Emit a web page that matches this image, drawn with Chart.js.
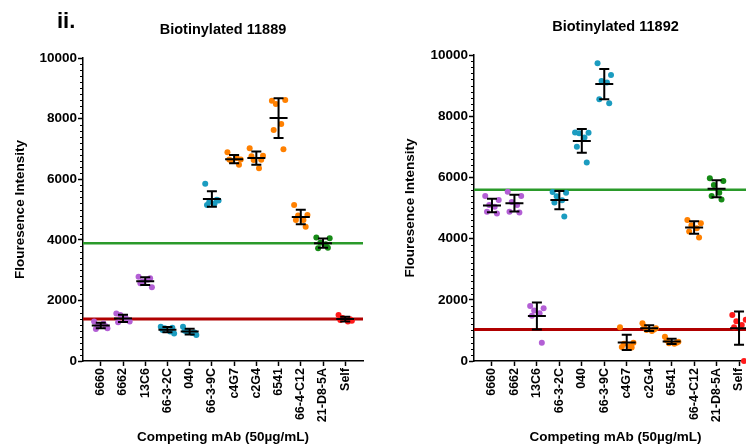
<!DOCTYPE html>
<html><head><meta charset="utf-8">
<script src="https://cdn.jsdelivr.net/npm/chart.js@4.4.1/dist/chart.umd.min.js"></script>
<style>
html,body{margin:0;padding:0;background:#fff;overflow:hidden;width:746px;height:445px;}
#c1{position:absolute;left:0;top:0;}
#c2{position:absolute;left:385px;top:0;}
</style></head><body>
<canvas id="c1" width="375" height="445"></canvas>
<canvas id="c2" width="385" height="445"></canvas>
<script>
// ---------- data ----------
const categories = ['6660','6662','13C6','66-3-2C','040','66-3-9C','c4G7','c2G4','6541','66-4-C12','21-D8-5A','Self'];
const groups = ['purple','purple','purple','teal','teal','teal','orange','orange','orange','orange','green','red'];
const yTicks = [0, 2000, 4000, 6000, 8000, 10000];

const values11889 = [
  [1300, 1080, 1190, 1240, 1060, 1150],
  [1570, 1300, 1520, 1420, 1280, 1350],
  [2780, 2430, 2620, 2680, 2570, 2730],
  [1130, 910, 1080, 970, 1020, 1100],
  [1130, 860, 970, 920, 1000, 940],
  [5850, 5300, 5250, 5200, 5150, 5320],
  [6890, 6650, 6600, 6700, 6650, 6480],
  [7020, 6770, 6630, 6360, 6760, 6640],
  [8590, 8610, 8480, 7820, 7620, 6990],
  [5150, 4820, 4800, 4650, 4650, 4430],
  [4080, 4050, 3900, 3850, 3720, 3740],
  [1520, 1330, 1420, 1300, 1350, 1380]
];
const values11892 = [
  [5390, 5260, 5100, 5040, 4880, 4820],
  [5530, 5390, 5200, 5100, 4880, 4850],
  [1800, 1720, 1650, 1560, 1480, 600],
  [5520, 5500, 5380, 5250, 5180, 4720],
  [7470, 7460, 7440, 7300, 7000, 6490],
  [9730, 9350, 9150, 9100, 8550, 8420],
  [1100, 600, 560, 480, 460, 440],
  [1230, 1070, 1010, 980, 1120, 1030],
  [790, 630, 580, 560, 680, 600],
  [4610, 4500, 4440, 4340, 4230, 4040],
  [5970, 5880, 5750, 5500, 5390, 5280],
  [1500, 1350, 1300, 1180, 1100, 0]
];
const redLine11889 = 1390, greenLine11889 = 3890;
const redLine11892 = 1030, greenLine11892 = 5600;

// ---------- style ----------
const colors = {purple:'#b35fd5', teal:'#1b9cc0', orange:'#ff8000', green:'#168a16', red:'#ff1a1a'};
const jitter = [-0.3, 0.3, -0.12, 0.12, -0.22, 0.22];
const FONT = "'Liberation Sans', Arial, Helvetica, sans-serif";
Chart.defaults.font.family = FONT;
Chart.defaults.font.weight = 'bold';
Chart.defaults.color = '#000';

const errorBars = {
  id: 'errorBars',
  afterDatasetsDraw(chart) {
    const ctx = chart.ctx, xs = chart.scales.x, ys = chart.scales.y;
    ctx.save();
    ctx.strokeStyle = '#000';
    ctx.lineWidth = 2;
    chart.data.datasets.forEach(ds => {
      if (ds.catIndex === undefined) return;
      const v = ds.raw;
      const n = v.length;
      const mean = v.reduce((a, b) => a + b, 0) / n;
      const sd = Math.sqrt(v.reduce((a, b) => a + (b - mean) * (b - mean), 0) / (n - 1));
      const px = xs.getPixelForValue(ds.catIndex);
      const pm = ys.getPixelForValue(mean);
      const pt = ys.getPixelForValue(mean + sd);
      const pb = ys.getPixelForValue(mean - sd);
      ctx.beginPath();
      ctx.moveTo(px - 9, pm); ctx.lineTo(px + 9, pm);
      ctx.moveTo(px, pt); ctx.lineTo(px, pb);
      ctx.moveTo(px - 5, pt); ctx.lineTo(px + 5, pt);
      ctx.moveTo(px - 5, pb); ctx.lineTo(px + 5, pb);
      ctx.stroke();
    });
    ctx.restore();
  }
};

const minorTicks = {
  id: 'minorTicks',
  afterDraw(chart) {
    const ctx = chart.ctx, ys = chart.scales.y;
    ctx.save();
    ctx.strokeStyle = '#000';
    ctx.lineWidth = 1;
    for (let v = 200; v < 10000; v += 200) {
      if (v % 2000 === 0) continue;
      const y = Math.round(ys.getPixelForValue(v)) + 0.5;
      ctx.beginPath();
      ctx.moveTo(ys.right - 3, y); ctx.lineTo(ys.right, y);
      ctx.stroke();
    }
    ctx.restore();
  }
};

function makeChart(id, values, redV, greenV, title, opt) {
  const datasets = [];
  values.forEach((vals, i) => {
    datasets.push({
      type: 'scatter',
      catIndex: i,
      raw: vals,
      data: vals.map((y, k) => ({x: i + jitter[k % jitter.length], y})),
      backgroundColor: colors[groups[i]],
      borderWidth: 0,
      pointRadius: 3,
      clip: false,
      order: 1
    });
  });
  datasets.push({type: 'line', data: [{x: -0.8, y: redV}, {x: 11.8, y: redV}], borderColor: '#b00000', borderWidth: 3, pointRadius: 0, order: 10, clip: false});
  datasets.push({type: 'line', data: [{x: -0.8, y: greenV}, {x: 11.8, y: greenV}], borderColor: '#2a9a2a', borderWidth: 2.5, pointRadius: 0, order: 10, clip: false});

  const plugins = [errorBars, minorTicks];
  if (opt.label) plugins.push({
    id: 'panelLabel',
    afterDraw(chart) {
      const ctx = chart.ctx;
      ctx.save();
      ctx.font = 'bold 22px ' + FONT;
      ctx.fillStyle = '#000';
      ctx.textBaseline = 'alphabetic';
      ctx.fillText(opt.label, 57, 28);
      ctx.restore();
    }
  });

  return new Chart(document.getElementById(id), {
    type: 'scatter',
    data: {datasets},
    plugins,
    options: {
      responsive: false,
      animation: false,
      devicePixelRatio: 1,
      layout: {padding: {left: 0, right: opt.rightPad, top: 0, bottom: 0}},
      plugins: {
        legend: {display: false},
        tooltip: {enabled: false},
        title: {
          display: true, text: title, fullSize: false,
          font: {size: 14.5, weight: 'bold', family: FONT}, color: '#000',
          padding: {top: opt.titleTop, bottom: opt.titleBottom}
        }
      },
      scales: {
        x: {
          type: 'linear', min: -0.8, max: 11.8,
          afterBuildTicks: s => { s.ticks = categories.map((c, i) => ({value: i})); },
          afterFit: s => { s.height = 84; },
          ticks: {
            autoSkip: false, minRotation: 90, maxRotation: 90, padding: 2,
            font: {size: 12.5, weight: 'bold', family: FONT}, color: '#000',
            callback: v => categories[v]
          },
          grid: {drawOnChartArea: false, tickLength: 5, tickColor: '#000', tickWidth: 1.5},
          border: {color: '#000', width: 1.5},
          title: {display: true, text: 'Competing mAb (50µg/mL)', font: {size: 13.5, weight: 'bold', family: FONT}, color: '#000', padding: {top: 0, bottom: 0}}
        },
        y: {
          type: 'linear', min: 0, max: 10000,
          afterBuildTicks: s => { s.ticks = yTicks.map(v => ({value: v})); },
          afterFit: s => { s.width = opt.yWidth; },
          ticks: {padding: 1, font: {size: 13.5, weight: 'bold', family: FONT}, color: '#000', callback: v => String(v)},
          grid: {drawOnChartArea: false, tickLength: 5, tickColor: '#000', tickWidth: 1.5},
          border: {color: '#000', width: 1.5},
          title: {display: true, text: 'Flouresence Intensity', font: {size: 13.5, weight: 'bold', family: FONT}, color: '#000', padding: {top: opt.yTitlePad, bottom: 0}}
        }
      }
    }
  });
}

makeChart('c1', values11889, redLine11889, greenLine11889, 'Biotinylated 11889',
  {yWidth: 83, rightPad: 12, titleTop: 21.3, titleBottom: 19.3, yTitlePad: 12, label: 'ii.'});
makeChart('c2', values11892, redLine11892, greenLine11892, 'Biotinylated 11892',
  {yWidth: 89, rightPad: 13, titleTop: 18.3, titleBottom: 19.3, yTitlePad: 17});
</script>
</body></html>
